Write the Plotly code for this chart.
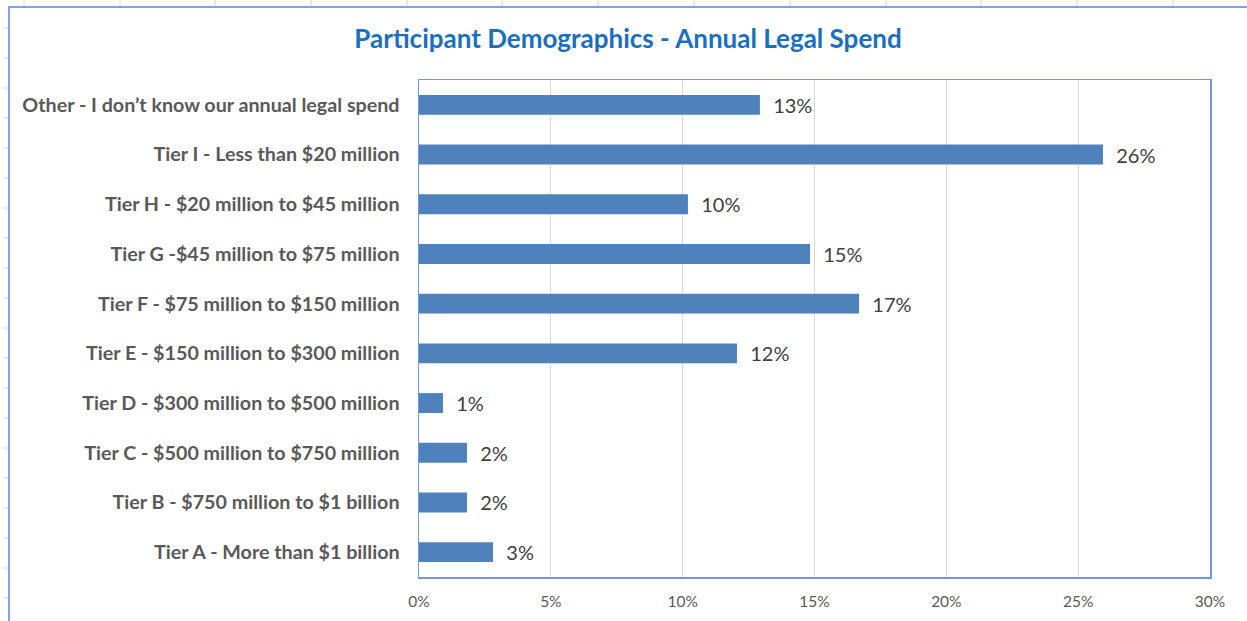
import plotly.graph_objects as go

categories = [
    "Other - I don\u2019t know our annual legal spend",
    "Tier I - Less than $20 million",
    "Tier H - $20 million to $45 million",
    "Tier G -$45 million to $75 million",
    "Tier F - $75 million to $150 million",
    "Tier E - $150 million to $300 million",
    "Tier D - $300 million to $500 million",
    "Tier C - $500 million to $750 million",
    "Tier B - $750 million to $1 billion",
    "Tier A - More than $1 billion",
]
values = [0.1293, 0.2594, 0.1020, 0.1483, 0.1669, 0.1206, 0.0091, 0.0182, 0.0182, 0.0281]
x_ticks = [0, 0.05, 0.10, 0.15, 0.20, 0.25, 0.30]
x_tick_labels = ["0%", "5%", "10%", "15%", "20%", "25%", "30%"]
title_text = "Participant Demographics - Annual Legal Spend"

W, H = 1247, 621
L, R, T, B = 419, 1210, 80, 577
FONT = "Lato"

fig = go.Figure()
fig.add_trace(go.Bar(
    x=values,
    y=categories,
    orientation="h",
    marker=dict(color="#4F81BD", line=dict(width=0)),
    texttemplate="\u00a0\u00a0%{x:.0%}",
    textposition="outside",
    constraintext="none",
    textfont=dict(family=FONT, size=20, color="#404040"),
    cliponaxis=False,
    width=0.4,
    hoverinfo="skip",
))

def px_x(p):
    return (p - L) / (R - L)

def px_y(p):
    return (B - p) / (B - T)

shapes = []
# spreadsheet cell borders (background)
for xp in [24, 120, 215, 311, 407, 502, 598, 694, 790, 886, 981, 1077, 1173]:
    shapes.append(dict(type="line", xref="paper", yref="paper",
                       x0=px_x(xp), x1=px_x(xp), y0=px_y(0), y1=px_y(6),
                       line=dict(color="#D4D4D4", width=1), layer="below"))
for yp in range(28, 621, 30):
    shapes.append(dict(type="line", xref="paper", yref="paper",
                       x0=px_x(3), x1=px_x(9), y0=px_y(yp), y1=px_y(yp),
                       line=dict(color="#D4D4D4", width=1), layer="below"))
# chart area frame
shapes.append(dict(type="rect", xref="paper", yref="paper",
                   x0=px_x(9), x1=px_x(1260), y0=px_y(640), y1=px_y(7),
                   line=dict(color="#7FA5DC", width=2), fillcolor="rgba(0,0,0,0)",
                   layer="below"))

fig.update_layout(
    width=W, height=H,
    margin=dict(l=L, r=W - R, t=T, b=H - B),
    paper_bgcolor="white",
    plot_bgcolor="white",
    showlegend=False,
    bargap=0.6,
    title=dict(text="<b>" + title_text + "</b>", x=628 / W, xanchor="center",
               y=1 - 39 / H, yanchor="middle",
               font=dict(family=FONT, size=26, color="#1A6FC0")),
    xaxis=dict(range=[0, 0.30], tickvals=x_ticks, ticktext=x_tick_labels,
               showgrid=True, gridcolor="#D9D9D9", gridwidth=1,
               zeroline=False, showline=True, linecolor="#6E9AD6", linewidth=1.5,
               mirror=True, ticks="", ticklabelstandoff=10,
               tickfont=dict(family=FONT, size=15.5, color="#595959"),
               fixedrange=True),
    yaxis=dict(autorange="reversed", showgrid=False, zeroline=False,
               showline=True, linecolor="#6E9AD6", linewidth=1.5, mirror=True,
               ticks="", ticklabelstandoff=14,
               tickfont=dict(family=FONT, size=19.7, color="#595959", weight="bold"),
               fixedrange=True),
    shapes=shapes,
)

fig.write_html(
    "out.html",
    config={"displayModeBar": False, "staticPlot": True},
    post_script="document.body.style.margin='0';document.body.style.overflow='hidden';",
)
